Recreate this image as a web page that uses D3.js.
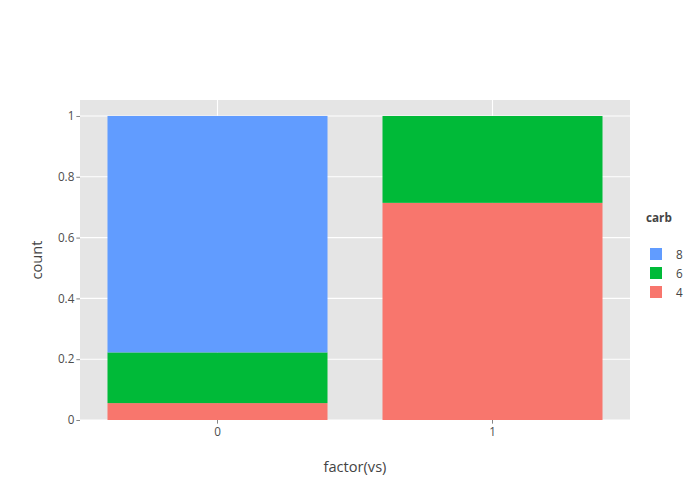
<!DOCTYPE html>
<html>
<head>
<meta charset="utf-8">
<script src="https://cdn.jsdelivr.net/npm/d3@7"></script>
<style>
  body { margin: 0; background: #fff; }
  svg { font-family: "Open Sans", verdana, arial, sans-serif; }
</style>
</head>
<body>
<svg id="chart" width="700" height="500"></svg>
<script>
// data: share of cars per vs group, stacked by carb level
var groups = ["0", "1"];
var levels = ["4", "6", "8"];
var share4 = [0.0556, 0.7143];
var share6 = [0.1667, 0.2857];
var share8 = [0.7778, 0];
var yTicks = [0, 0.2, 0.4, 0.6, 0.8, 1];
var colors = { "4": "#F8766D", "6": "#00BA38", "8": "#619CFF" };

var svg = d3.select("#chart");
var plotLeft = 80, plotRight = 630, plotTop = 100, plotBottom = 420;

var x = d3.scaleBand()
    .domain(groups)
    .range([plotLeft, plotRight])
    .paddingInner(0.2)
    .paddingOuter(0.1);

// 0 sits on the bottom edge, 1 at y=116
var y = d3.scaleLinear()
    .domain([0, 1.0526])
    .range([plotBottom, plotTop]);

// background
svg.append("rect")
    .attr("x", plotLeft).attr("y", plotTop)
    .attr("width", plotRight - plotLeft).attr("height", plotBottom - plotTop)
    .attr("fill", "#E5E5E5");

// grid lines
svg.append("g").selectAll("line")
    .data(yTicks)
    .enter().append("line")
    .attr("x1", plotLeft).attr("x2", plotRight)
    .attr("y1", function (d) { return y(d); })
    .attr("y2", function (d) { return y(d); })
    .attr("stroke", "#fff").attr("stroke-width", 1.1);

svg.append("g").selectAll("line")
    .data(groups)
    .enter().append("line")
    .attr("x1", function (d) { return x(d) + x.bandwidth() / 2; })
    .attr("x2", function (d) { return x(d) + x.bandwidth() / 2; })
    .attr("y1", plotTop).attr("y2", plotBottom)
    .attr("stroke", "#fff").attr("stroke-width", 1.1);

// stacked bars
var rows = groups.map(function (g, i) {
    return { group: g, "4": share4[i], "6": share6[i], "8": share8[i] };
});
var series = d3.stack().keys(levels)(rows);

svg.append("g").selectAll("g")
    .data(series)
    .enter().append("g")
    .attr("fill", function (d) { return colors[d.key]; })
    .selectAll("rect")
    .data(function (d) { return d; })
    .enter().append("rect")
    .attr("x", function (d) { return x(d.data.group); })
    .attr("width", x.bandwidth())
    .attr("y", function (d) { return y(d[1]); })
    .attr("height", function (d) { return y(d[0]) - y(d[1]); });

// axes
var yAxis = svg.append("g")
    .attr("transform", "translate(" + plotLeft + ",0)")
    .call(d3.axisLeft(y).tickValues(yTicks).tickSize(3.65).tickPadding(2)
        .tickFormat(function (d) { return d3.format("")(d); }));
var xAxis = svg.append("g")
    .attr("transform", "translate(0," + plotBottom + ")")
    .call(d3.axisBottom(x).tickSize(3.65).tickPadding(4));

[xAxis, yAxis].forEach(function (a) {
    a.select(".domain").remove();
    a.selectAll(".tick line").attr("stroke", "#333333").attr("stroke-opacity", 0.6);
    a.selectAll(".tick text")
        .attr("fill", "#4D4D4D")
        .style("font-size", "11.7px")
        .style("font-family", "\"Open Sans\", verdana, arial, sans-serif");
});

// axis titles
svg.append("text")
    .attr("x", (plotLeft + plotRight) / 2).attr("y", 472)
    .attr("text-anchor", "middle")
    .attr("fill", "#444")
    .style("font-size", "14.6px")
    .text("factor(vs)");

svg.append("text")
    .attr("transform", "translate(42," + (plotTop + plotBottom) / 2 + ") rotate(-90)")
    .attr("text-anchor", "middle")
    .attr("fill", "#444")
    .style("font-size", "14.6px")
    .text("count");

// legend
var legend = svg.append("g").attr("transform", "translate(646,0)");
legend.append("text")
    .attr("x", 0).attr("y", 222)
    .attr("fill", "#444")
    .style("font-size", "11.7px")
    .style("font-weight", "bold")
    .text("carb");

var legendKeys = levels.slice().reverse();
var item = legend.selectAll("g.item")
    .data(legendKeys)
    .enter().append("g")
    .attr("class", "item")
    .attr("transform", function (d, i) { return "translate(0," + (254 + i * 19) + ")"; });
item.append("rect")
    .attr("x", 4).attr("y", -6)
    .attr("width", 12).attr("height", 12)
    .attr("fill", function (d) { return colors[d]; });
item.append("text")
    .attr("x", 30).attr("y", 4.5)
    .attr("fill", "#444")
    .style("font-size", "11.7px")
    .text(function (d) { return d; });
</script>
</body>
</html>
